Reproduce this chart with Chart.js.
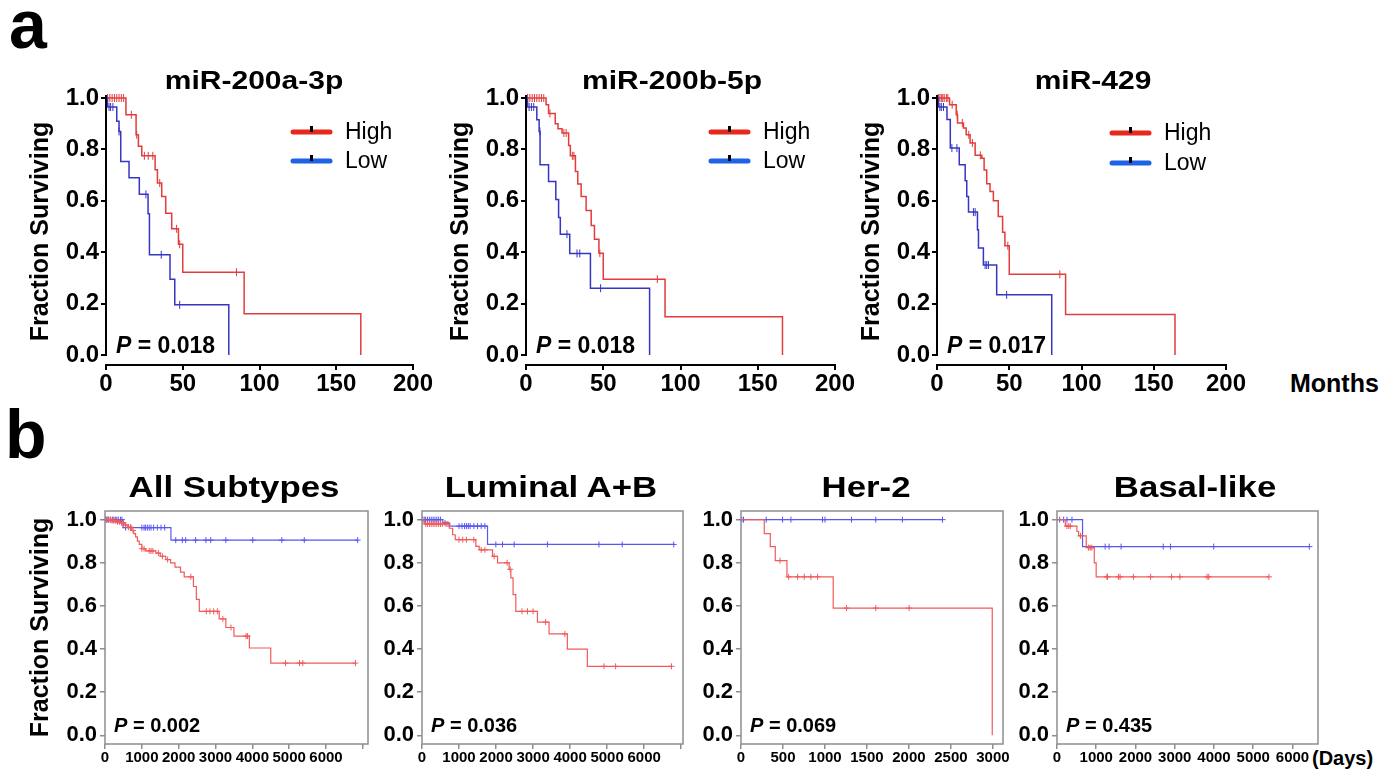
<!DOCTYPE html>
<html>
<head>
<meta charset="utf-8">
<title>miR-200 family survival</title>
<script src="https://cdn.jsdelivr.net/npm/chart.js@4.4.1/dist/chart.umd.min.js"></script>
<style>
  body { margin:0; width:1400px; height:771px; background:#fff; position:relative; overflow:hidden;
         font-family: Arial, "Liberation Sans", sans-serif; }
  canvas { position:absolute; }
  .txt { position:absolute; font-weight:bold; color:#000; white-space:nowrap; line-height:1; }
</style>
</head>
<body>
<div class="txt" style="left:9px;top:-10px;font-size:68px">a</div>
<div class="txt" style="left:5px;top:400px;font-size:68px">b</div>
<div class="txt" style="left:1290px;top:371px;font-size:25px">Months</div>
<div class="txt" style="left:1312px;top:748px;font-size:20px">(Days)</div>

<canvas id="cA1" width="440" height="345" style="left:0;top:55px"></canvas>
<canvas id="cA2" width="442" height="345" style="left:420px;top:55px"></canvas>
<canvas id="cA3" width="422" height="345" style="left:831px;top:55px"></canvas>
<canvas id="cB1" width="378" height="301" style="left:0;top:470px"></canvas>
<canvas id="cB2" width="326" height="301" style="left:367px;top:470px"></canvas>
<canvas id="cB3" width="327" height="301" style="left:686px;top:470px"></canvas>
<canvas id="cB4" width="326" height="301" style="left:1002px;top:470px"></canvas>

<script>
// ---- panel a: survival by miRNA level, months ----
const aTitles = ['miR-200a-3p', 'miR-200b-5p', 'miR-429'];
const aPvals = ['0.018', '0.018', '0.017'];
const groupNames = ['High', 'Low'];

// axis ticks
const fracTicks = [0, 0.2, 0.4, 0.6, 0.8, 1.0];
const monthTicks = [0, 50, 100, 150, 200];
const dayTicks7 = [0, 1000, 2000, 3000, 4000, 5000, 6000, 7000];
const dayTicks6 = [0, 1000, 2000, 3000, 4000, 5000, 6000];
const her2Ticks = [0, 500, 1000, 1500, 2000, 2500, 3000];

// step times (T), survival after each step (S), censored times (C)
const a1HighT = [0, 13, 19.6, 21.1, 23.3, 32, 33.5, 36.3, 38.9, 42.8, 47.2, 50, 90, 166];
const a1HighS = [1, 0.935, 0.857, 0.812, 0.775, 0.721, 0.669, 0.617, 0.552, 0.491, 0.431, 0.322, 0.16, 0];
const a1HighC = [1, 2.5, 4, 5.5, 7, 8.5, 10, 11.5, 16.5, 20, 25, 27.5, 30.5, 35, 46, 48, 85];
const a1LowT = [0, 1, 7, 8.5, 9.6, 15, 21.7, 27.4, 28.3, 41.7, 44.8, 80];
const a1LowS = [1, 0.965, 0.91, 0.87, 0.753, 0.69, 0.625, 0.55, 0.39, 0.295, 0.195, 0];
const a1LowC = [2, 3, 4.5, 8.5, 26, 36, 48];

const a2HighT = [0, 13, 14.6, 18.9, 20.7, 23.3, 27.6, 28.7, 32, 33.5, 35.7, 38.9, 42.2, 44.3, 47.2, 50, 90, 166];
const a2HighS = [1, 0.974, 0.94, 0.9, 0.88, 0.864, 0.815, 0.775, 0.714, 0.665, 0.617, 0.562, 0.504, 0.45, 0.396, 0.295, 0.149, 0];
const a2HighC = [1, 2.5, 4, 5.5, 7, 8.5, 10, 11.5, 15.5, 24.5, 26, 30, 31, 47.8, 85];
const a2LowT = [0, 1, 7, 8.5, 9.1, 14.6, 19.3, 21.1, 22.2, 28.3, 41.7, 80];
const a2LowS = [1, 0.965, 0.915, 0.87, 0.74, 0.675, 0.605, 0.535, 0.47, 0.395, 0.26, 0];
const a2LowC = [2, 3.5, 5, 9, 26.5, 33, 34.8, 48.3];

const a3HighT = [0, 8.7, 13.3, 14.2, 18.3, 20.2, 22.9, 26.4, 31, 32.6, 34.4, 36.7, 39, 42.4, 45.4, 47, 50, 89, 164.7];
const a3HighS = [1, 0.974, 0.935, 0.903, 0.883, 0.857, 0.825, 0.777, 0.766, 0.72, 0.666, 0.636, 0.6, 0.539, 0.478, 0.425, 0.314, 0.158, 0];
const a3HighC = [1, 2, 3, 4, 5, 6.5, 7.5, 10.5, 14, 17.5, 22, 24.5, 30, 49, 85];
const a3LowT = [0, 1, 6.9, 9.2, 15.4, 19.5, 20.6, 21.8, 28, 28.7, 32.1, 41.3, 79.4];
const a3LowS = [1, 0.965, 0.916, 0.805, 0.74, 0.678, 0.617, 0.556, 0.487, 0.416, 0.35, 0.234, 0];
const a3LowC = [2, 3, 4.5, 10.3, 13.8, 25.2, 26.4, 33.3, 34.4, 35.6, 48.2];

// ---- panel b: by subtype, days ----
const bTitles = ['All Subtypes', 'Luminal A+B', 'Her-2', 'Basal-like'];
const bPvals = ['0.002', '0.036', '0.069', '0.435'];

const b1HighT = [0, 150, 300, 400, 520, 620, 720, 780, 830, 880, 930, 1000, 1100, 1380, 1500, 1650, 1780, 1900, 2050, 2150, 2400, 2480, 2560, 3100, 3280, 3500, 3920, 4500, 6800];
const b1HighS = [1, 0.995, 0.99, 0.985, 0.975, 0.965, 0.95, 0.935, 0.92, 0.9, 0.885, 0.865, 0.855, 0.845, 0.83, 0.815, 0.8, 0.78, 0.757, 0.735, 0.69, 0.63, 0.575, 0.54, 0.5, 0.46, 0.405, 0.335, 0.335];
const b1HighC = [40, 90, 140, 190, 240, 290, 340, 390, 450, 500, 560, 640, 700, 760, 1000, 1060, 1200, 1250, 1300, 1450, 1560, 1700, 2330, 2750, 2850, 2950, 3050, 3200, 3420, 3830, 3870, 4900, 5280, 5370, 6800];
const b1LowT = [0, 490, 1790, 6860];
const b1LowS = [1, 0.963, 0.905, 0.905];
const b1LowC = [20, 60, 100, 150, 200, 240, 280, 320, 360, 420, 460, 560, 700, 1000, 1060, 1100, 1150, 1200, 1250, 1320, 1420, 1520, 1620, 1920, 2100, 2190, 2460, 2740, 2870, 3280, 4010, 4800, 5410, 6860];

const b2HighT = [0, 60, 737, 827, 898, 1455, 1545, 1905, 2040, 2354, 2400, 2460, 2534, 3118, 3432, 3926, 4466, 6740];
const b2HighS = [1, 0.98, 0.96, 0.93, 0.907, 0.876, 0.86, 0.83, 0.8, 0.77, 0.73, 0.652, 0.575, 0.525, 0.47, 0.4, 0.32, 0.32];
const b2HighC = [100, 150, 200, 250, 300, 350, 400, 450, 500, 550, 650, 700, 1000, 1100, 1200, 1400, 1600, 1700, 1950, 2300, 2380, 2700, 2850, 3000, 3340, 3860, 4915, 5230, 6740];
const b2LowT = [0, 560, 737, 1770, 6800];
const b2LowS = [1, 0.985, 0.97, 0.885, 0.885];
const b2LowC = [20, 60, 100, 150, 200, 250, 300, 350, 400, 450, 500, 620, 1000, 1080, 1150, 1200, 1250, 1300, 1400, 1500, 1600, 1700, 1995, 2175, 2489, 3387, 4780, 5409, 6800];

const b3HighT = [0, 277, 349, 408, 547, 1098, 2992];
const b3HighS = [1, 0.935, 0.875, 0.81, 0.735, 0.59, 0];
const b3HighC = [464, 567, 674, 753, 832, 912, 1256, 1605, 2002];
const b3LowT = [0, 2400];
const b3LowS = [1, 1];
const b3LowC = [10, 30, 300, 495, 595, 971, 1000, 1316, 1605, 1922, 2400];

const b4HighT = [0, 211, 508, 550, 745, 950, 998, 5400];
const b4HighS = [1, 0.97, 0.945, 0.925, 0.87, 0.8, 0.735, 0.735];
const b4HighC = [254, 300, 338, 600, 804, 846, 888, 1270, 1286, 1565, 1607, 1946, 2386, 2919, 3130, 3824, 3866, 5400];
const b4LowT = [0, 651, 6430];
const b4LowS = [1, 0.875, 0.875];
const b4LowC = [68, 169, 254, 381, 1227, 1328, 1633, 2707, 2893, 3993, 6430];

const FONT = 'Arial, "Liberation Sans", sans-serif';
const NARROW = '"Liberation Sans Narrow", "Arial Narrow", Arial, sans-serif';
Chart.defaults.font.family = FONT;
Chart.defaults.color = '#000';

// survival value of the step curve at time t (to sit censor marks on the line)
function survAt(T, S, t) {
  let s = S[0];
  for (let i = 0; i < T.length; i++) {
    if (T[i] <= t) s = S[i]; else break;
  }
  return s;
}

function kmSets(curves, st) {
  const out = [];
  curves.forEach(c => {
    out.push({
      data: c.T.map((t, i) => ({x: t, y: c.S[i]})),
      borderColor: c.color, borderWidth: st.lw, stepped: 'before',
      pointRadius: 0, fill: false, clip: false
    });
    out.push({
      data: c.C.map(t => ({x: t, y: survAt(c.T, c.S, t)})),
      showLine: false, borderColor: c.color, backgroundColor: c.color,
      pointStyle: st.mark, rotation: st.rot, pointRadius: st.mr, borderWidth: 1, clip: false
    });
  });
  return out;
}

const useTicks = list => (s => { s.ticks = list.map(v => ({value: v})); });

// frame, detached y axis line, P value and legend
const kmDecor = {
  id: 'kmDecor',
  afterDraw(chart, args, o) {
    const {ctx, chartArea: ca, scales} = chart;
    const y0 = scales.y.getPixelForValue(0);
    ctx.save();
    if (o.frame) {
      ctx.strokeStyle = '#8e8e8e'; ctx.lineWidth = 1.5;
      ctx.strokeRect(ca.left, ca.top, ca.right - ca.left, ca.bottom - ca.top);
    }
    if (o.yLine) {
      ctx.strokeStyle = '#000'; ctx.lineWidth = 2;
      ctx.beginPath();
      ctx.moveTo(ca.left, scales.y.getPixelForValue(1) - 3);
      ctx.lineTo(ca.left, y0 + 1);
      ctx.stroke();
    }
    if (o.p) {
      let x = ca.left + o.pDx;
      const yy = y0 + o.pDy;
      ctx.fillStyle = '#000';
      ctx.textBaseline = 'middle';
      ctx.font = 'italic bold ' + o.pSize + 'px ' + FONT;
      ctx.fillText('P', x, yy);
      x += ctx.measureText('P').width;
      ctx.font = 'bold ' + o.pSize + 'px ' + FONT;
      ctx.fillText(' = ' + o.p, x, yy);
    }
    if (o.legend) {
      o.legend.forEach((item, i) => {
        const lx = ca.left + o.legDx, ly = ca.top + o.legDy[i];
        ctx.strokeStyle = item.color; ctx.lineWidth = 5; ctx.lineCap = 'round';
        ctx.beginPath(); ctx.moveTo(lx, ly); ctx.lineTo(lx + 37, ly); ctx.stroke();
        ctx.fillStyle = '#000';
        ctx.fillRect(lx + 17, ly - 6, 3, 6);
        ctx.font = '23px ' + FONT;
        ctx.textBaseline = 'middle';
        ctx.fillText(item.label, lx + 52, ly + 1);
      });
    }
    ctx.restore();
  }
};

function topPanel(id, high, low, pval, legDx, legDy) {
  const curves = [
    {T: low.T, S: low.S, C: low.C, color: '#3636c4'},
    {T: high.T, S: high.S, C: high.C, color: '#e23c3c'}
  ];
  new Chart(document.getElementById(id), {
    type: 'line',
    data: {datasets: kmSets(curves, {lw: 1.5, mark: 'line', rot: 90, mr: 4})},
    options: {
      responsive: false, animation: false, events: [],
      layout: {padding: {left: 0, top: 43, right: 27, bottom: 0}},
      plugins: {
        legend: {display: false}, tooltip: {enabled: false},
        kmDecor: {
          yLine: true, p: pval, pDx: 10, pDy: -8, pSize: 23,
          legend: [{label: groupNames[0], color: '#e8281c'}, {label: groupNames[1], color: '#1e62e6'}],
          legDx: legDx, legDy: legDy
        }
      },
      scales: {
        x: {
          type: 'linear', min: 0, max: 200,
          afterBuildTicks: useTicks(monthTicks),
          afterFit: s => { s.height = 35; },
          ticks: {autoSkip: false, maxRotation: 0, padding: 0,
                  font: {size: 24, weight: 'bold'}, color: '#000'},
          grid: {drawOnChartArea: false, tickLength: 5, color: '#000', lineWidth: 2},
          border: {display: true, color: '#000', width: 2}
        },
        y: {
          type: 'linear', min: -0.039, max: 1.0,
          afterBuildTicks: useTicks(fracTicks),
          afterFit: s => { s.width = 106; },
          ticks: {padding: 2, font: {size: 24, weight: 'bold'}, color: '#000',
                  callback: v => v.toFixed(1)},
          grid: {drawOnChartArea: false, tickLength: 5, color: '#000', lineWidth: 2},
          border: {display: false},
          title: {display: true, text: 'Fraction Surviving', color: '#000',
                  font: {size: 25, weight: 'bold'}, padding: {top: 26, bottom: 0}}
        }
      }
    },
    plugins: [kmDecor]
  });
}

function bottomPanel(id, high, low, pval, xMax, xTicks, lastLabel, withTitle) {
  const curves = [
    {T: high.T, S: high.S, C: high.C, color: '#f25a5a'},
    {T: low.T, S: low.S, C: low.C, color: '#5858ee'}
  ];
  new Chart(document.getElementById(id), {
    type: 'line',
    data: {datasets: kmSets(curves, {lw: 1.2, mark: 'cross', rot: 0, mr: 3})},
    options: {
      responsive: false, animation: false, events: [],
      layout: {padding: {left: 0, top: 41, right: 10, bottom: 0}},
      plugins: {
        legend: {display: false}, tooltip: {enabled: false},
        kmDecor: {frame: true, p: pval, pDx: 9, pDy: -9, pSize: 20}
      },
      scales: {
        x: {
          type: 'linear', min: 0, max: xMax,
          afterBuildTicks: useTicks(xTicks),
          afterFit: s => { s.height = 27; },
          ticks: {autoSkip: false, maxRotation: 0, padding: 0,
                  font: {family: NARROW, size: 15, weight: 'bold'}, color: '#000',
                  callback: v => (v > lastLabel ? '' : String(v))},
          grid: {drawOnChartArea: false, tickLength: 5, color: '#8e8e8e', lineWidth: 1.5},
          border: {display: false}
        },
        y: {
          type: 'linear', min: -0.04, max: 1.04,
          afterBuildTicks: useTicks(fracTicks),
          afterFit: s => { s.width = withTitle ? 105 : 55; },
          ticks: {padding: 3, font: {size: 22, weight: 'bold'}, color: '#000',
                  callback: v => v.toFixed(1)},
          grid: {drawOnChartArea: false, tickLength: 5, color: '#8e8e8e', lineWidth: 1.5},
          border: {display: false},
          title: {display: withTitle, text: 'Fraction Surviving', color: '#000',
                  font: {size: 25, weight: 'bold'}, padding: {top: 26, bottom: 0}}
        }
      }
    },
    plugins: [kmDecor]
  });
}

topPanel('cA1', {T: a1HighT, S: a1HighS, C: a1HighC}, {T: a1LowT, S: a1LowS, C: a1LowC}, aPvals[0], 187, [34, 63]);
topPanel('cA2', {T: a2HighT, S: a2HighS, C: a2HighC}, {T: a2LowT, S: a2LowS, C: a2LowC}, aPvals[1], 185, [34, 63]);
topPanel('cA3', {T: a3HighT, S: a3HighS, C: a3HighC}, {T: a3LowT, S: a3LowS, C: a3LowC}, aPvals[2], 175, [35, 65]);

bottomPanel('cB1', {T: b1HighT, S: b1HighS, C: b1HighC}, {T: b1LowT, S: b1LowS, C: b1LowC}, bPvals[0], 7140, dayTicks7, 6000, true);
bottomPanel('cB2', {T: b2HighT, S: b2HighS, C: b2HighC}, {T: b2LowT, S: b2LowS, C: b2LowC}, bPvals[1], 7050, dayTicks7, 6000, false);
bottomPanel('cB3', {T: b3HighT, S: b3HighS, C: b3HighC}, {T: b3LowT, S: b3LowS, C: b3LowC}, bPvals[2], 3120, her2Ticks, 3000, false);
bottomPanel('cB4', {T: b4HighT, S: b4HighS, C: b4HighC}, {T: b4LowT, S: b4LowS, C: b4LowC}, bPvals[3], 6650, dayTicks6, 6000, false);

// panel titles
function addTitle(text, cx, cy, size, stretch) {
  const d = document.createElement('div');
  d.className = 'txt';
  d.textContent = text;
  d.style.fontSize = size + 'px';
  d.style.left = cx + 'px';
  d.style.top = (cy - 0.4885 * size) + 'px';
  d.style.transform = 'translateX(-50%) scaleX(' + stretch + ')';
  document.body.appendChild(d);
}
[254, 672, 1093].forEach((cx, i) => addTitle(aTitles[i], cx, 80, 25, 1.2));
[234, 551, 866, 1195].forEach((cx, i) => addTitle(bTitles[i], cx, 487, 30, 1.16));
</script>
</body>
</html>
